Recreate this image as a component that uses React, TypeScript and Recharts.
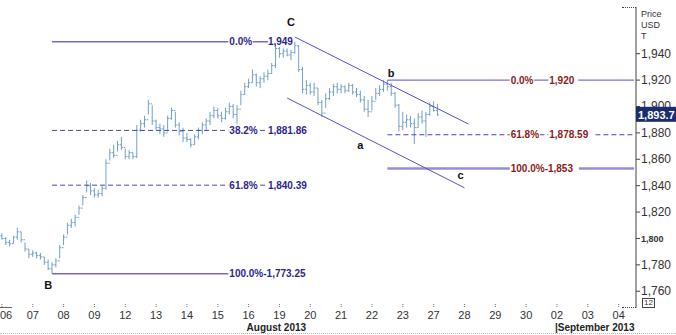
import React from 'react';
import { ComposedChart, Bar, XAxis, YAxis, ReferenceLine, ReferenceDot } from 'recharts';

const dayLabels = ['06', '07', '08', '09', '12', '13', '14', '15', '16', '19', '20', '21', '22', '23', '27', '28', '29', '30', '02', '03', '04'];
const monthLabels = [
  { day: 8, text: 'August 2013' },
  { day: 18, text: '|September 2013' },
];
const BARS_PER_DAY = 8;
const SLOTS = 165;

// open, high, low, close
const ohlc: number[][] = [
  [1802, 1804, 1799, 1800], [1800, 1801, 1795, 1797], [1797, 1799, 1794, 1796], [1796, 1802, 1796, 1801],
  [1801, 1808, 1799, 1805], [1805, 1805, 1797, 1799], [1799, 1797, 1790, 1792], [1792, 1792, 1785, 1788],
  [1788, 1791, 1786, 1789], [1789, 1790, 1785, 1787], [1787, 1789, 1784, 1786], [1786, 1786, 1780, 1782],
  [1782, 1784, 1776, 1777], [1777, 1782, 1773.3, 1780], [1780, 1785, 1778, 1783], [1783, 1795, 1785, 1793],
  [1793, 1803, 1795, 1801], [1801, 1812, 1803, 1810], [1810, 1815, 1808, 1812], [1812, 1818, 1809, 1816],
  [1816, 1825, 1818, 1823], [1823, 1833, 1825, 1831], [1831, 1844, 1835, 1840], [1840, 1842, 1833, 1836],
  [1836, 1838, 1831, 1833], [1833, 1837, 1831, 1834], [1834, 1840, 1832, 1838], [1838, 1860, 1837, 1857],
  [1857, 1868, 1859, 1865], [1865, 1871, 1861, 1863], [1863, 1874, 1866, 1871], [1871, 1877, 1867, 1869],
  [1869, 1868, 1860, 1862], [1862, 1867, 1860, 1865], [1865, 1865, 1860, 1862], [1862, 1886, 1861, 1882],
  [1882, 1890, 1881, 1887], [1887, 1893, 1884, 1890], [1890, 1905, 1894, 1902], [1902, 1901, 1886, 1889],
  [1889, 1890, 1882, 1884], [1884, 1887, 1879, 1883], [1883, 1886, 1877, 1880], [1880, 1893, 1881, 1891],
  [1891, 1899, 1890, 1897], [1897, 1896, 1884, 1886], [1886, 1888, 1878, 1881], [1881, 1884, 1873, 1876],
  [1876, 1880, 1873, 1875], [1875, 1876, 1869, 1871], [1871, 1879, 1871, 1877], [1877, 1884, 1875, 1882],
  [1882, 1888, 1879, 1886], [1886, 1891, 1882, 1889], [1889, 1896, 1886, 1893], [1893, 1900, 1891, 1897],
  [1897, 1899, 1891, 1893], [1893, 1896, 1888, 1891], [1891, 1899, 1890, 1896], [1896, 1903, 1894, 1900],
  [1900, 1902, 1891, 1894], [1894, 1901, 1887, 1898], [1898, 1912, 1901, 1909], [1909, 1918, 1909, 1915],
  [1915, 1921, 1914, 1918], [1918, 1928, 1918, 1924], [1924, 1925, 1915, 1918], [1918, 1923, 1914, 1921],
  [1921, 1926, 1918, 1923], [1923, 1928, 1920, 1925], [1925, 1933, 1925, 1931], [1931, 1947, 1929, 1944],
  [1944, 1945, 1937, 1940], [1940, 1944, 1937, 1942], [1942, 1944, 1938, 1939], [1939, 1943, 1935, 1941],
  [1941, 1949, 1940, 1946], [1946, 1946.5, 1926, 1928], [1928, 1930, 1910, 1913], [1913, 1920, 1909, 1916],
  [1916, 1918, 1909, 1911], [1911, 1918, 1908, 1914], [1914, 1914, 1901, 1903], [1903, 1905, 1892, 1895],
  [1895, 1910, 1899, 1906], [1906, 1914, 1905, 1911], [1911, 1917, 1908, 1915], [1915, 1918, 1910, 1913],
  [1913, 1917, 1910, 1915], [1915, 1916, 1910, 1912], [1912, 1918, 1911, 1916], [1916, 1917, 1909, 1911],
  [1911, 1914, 1907, 1909], [1909, 1912, 1903, 1905], [1905, 1908, 1896, 1898], [1898, 1905, 1892, 1896],
  [1896, 1908, 1897, 1904], [1904, 1914, 1905, 1910], [1910, 1916, 1908, 1913], [1913, 1920, 1911, 1917],
  [1917, 1920, 1912, 1915], [1915, 1918, 1908, 1910], [1910, 1911, 1899, 1901], [1901, 1902, 1881, 1885],
  [1885, 1896, 1882, 1888], [1888, 1894, 1884, 1890], [1890, 1893, 1884, 1887], [1887, 1891, 1871.5, 1884],
  [1884, 1895, 1884, 1892], [1892, 1897, 1887, 1889], [1889, 1896, 1877, 1894], [1894, 1903, 1893, 1900],
  [1900, 1904, 1896, 1897], [1897, 1902, 1893, 1893.7],
];

const priceTicks = [1760, 1780, 1800, 1820, 1840, 1860, 1880, 1900, 1920, 1940];
const lastPrice = 1893.7;

const fibUp = [
  { pct: '0.0%', value: 1949, text: '1,949', kind: 'solid' },
  { pct: '38.2%', value: 1881.86, text: '1,881.86', kind: 'dash' },
  { pct: '61.8%', value: 1840.39, text: '1,840.39', kind: 'dash' },
  { pct: '100.0%-1,773.25', value: 1773.25, text: '', kind: 'solid' },
];
const fibDown = [
  { pct: '0.0%', value: 1920, text: '1,920', kind: 'thin' },
  { pct: '61.8%', value: 1878.59, text: '1,878.59', kind: 'dash' },
  { pct: '100.0%-1,853', value: 1853, text: '', kind: 'thick' },
];
const fibUpRange = { start: 13, pctAt: 59, valueAt: 69 };
const fibDownRange = { start: 100, pctAt: 132, valueAt: 142, end: 164 };

const channelUpper = [{ x: 76, y: 1952.65 }, { x: 121, y: 1886.74 }];
const channelLower = [{ x: 74, y: 1906.4 }, { x: 120, y: 1838.4 }];

const waveLabels = [
  { x: 75, y: 1964.0, t: 'C' },
  { x: 12, y: 1764.8, t: 'B' },
  { x: 101, y: 1925.4, t: 'b' },
  { x: 93, y: 1870.8, t: 'a' },
  { x: 119, y: 1848.1, t: 'c' },
];

const data = Array.from({ length: SLOTS }, (_, i) => {
  const b = ohlc[i];
  return b
    ? { i, o: b[0], h: b[1], l: b[2], c: b[3], range: [b[2], b[1]] }
    : { i, range: null };
});

const FONT = '"Liberation Sans", Arial, sans-serif';
const BAR_COLOR = '#72a0c8';
const FIB_A_TEXT = '#2e1f8f';
const FIB_B_TEXT = '#8b1a1a';

const OhlcShape = (props: any) => {
  const { x, y, width, height, payload } = props;
  if (!payload || payload.o == null || y == null || height == null) return null;
  const top = Math.min(y, y + height);
  const bot = Math.max(y, y + height);
  const span = payload.h - payload.l || 1;
  const toY = (v: number) => top + ((payload.h - v) / span) * (bot - top);
  const cx = x + width / 2;
  return (
    <g stroke={BAR_COLOR} strokeWidth={1}>
      <line x1={cx} x2={cx} y1={top} y2={bot} />
      <line x1={cx - 1.6} x2={cx} y1={toY(payload.o)} y2={toY(payload.o)} />
      <line x1={cx} x2={cx + 1.6} y1={toY(payload.c)} y2={toY(payload.c)} />
    </g>
  );
};

const XTick = (props: any) => {
  const { x, y, payload } = props;
  const v = Number(payload.value);
  if (v % BARS_PER_DAY !== 0) return <g />;
  const k = v / BARS_PER_DAY;
  const label = dayLabels[k];
  if (label == null) return <g />;
  const month = monthLabels.find((m) => m.day === k);
  return (
    <g>
      <line x1={x} x2={x} y1={y - 4} y2={y - 1} stroke="#777" strokeDasharray="1 1" />
      <text
        x={k === 0 ? x - 2 : x}
        y={y + 11}
        textAnchor={k === 0 ? 'start' : 'middle'}
        fontSize={11}
        fontFamily={FONT}
        fill="#333"
      >
        {label}
      </text>
      {month && (
        <text x={x - 2} y={y + 23} textAnchor="start" fontSize={10} fontWeight="bold" fontFamily={FONT} fill="#222">
          {month.text}
        </text>
      )}
    </g>
  );
};

const YTick = (props: any) => {
  const { x, y, payload } = props;
  const bold = payload.value === 1800;
  return (
    <text
      x={x}
      y={y}
      dy={4}
      textAnchor="start"
      fontSize={bold ? 9 : 12}
      fontWeight={bold ? 'bold' : 'normal'}
      fontFamily={FONT}
      fill="#333"
    >
      {payload.value.toLocaleString('en-US')}
    </text>
  );
};

const makeTextShape = (text: string, color: string, bg: boolean, w: number, size = 10, bold = true, anchor: 'start' | 'middle' = 'start') =>
  (p: any) => (
    <g>
      {bg && <rect x={p.cx - 1} y={p.cy - 6} width={w + 2} height={12} fill="#fff" />}
      <text
        x={p.cx}
        y={p.cy}
        dy="0.35em"
        textAnchor={anchor}
        fontSize={size}
        fontWeight={bold ? 'bold' : 'normal'}
        fontFamily={FONT}
        fill={color}
      >
        {text}
      </text>
    </g>
  );

const PriceBox = (p: any) => {
  const vb = p.viewBox || {};
  const bx = (vb.x || 0) + (vb.width || 0);
  const by = vb.y || 0;
  return (
    <g>
      <rect x={bx} y={by - 8} width={40} height={15} fill="#1b2d6e" />
      <text x={bx + 2} y={by} dy="0.36em" fontSize={11} fontWeight="bold" fontFamily={FONT} fill="#fff">
        {lastPrice.toLocaleString('en-US', { minimumFractionDigits: 1 })}
      </text>
    </g>
  );
};

const lineStyle = (kind: string) => {
  if (kind === 'dash') return { stroke: '#4e45bd', strokeWidth: 1, strokeDasharray: '5 3' };
  if (kind === 'thick') return { stroke: '#958ce0', strokeWidth: 2.5 };
  if (kind === 'thin') return { stroke: '#5a50c8', strokeWidth: 1 };
  return { stroke: '#7468d4', strokeWidth: 1.5 };
};

const textWidth = (s: string) => s.length * 5.6;

export default function App() {
  return (
    <div style={{ position: 'absolute', left: 0, top: 0, width: 676, height: 335, background: '#fff', fontFamily: FONT }}>
      <ComposedChart width={676} height={335} data={data} margin={{ top: 7, right: 0, bottom: 0, left: 0 }}>
        <XAxis
          dataKey="i"
          type="category"
          interval={0}
          tick={<XTick />}
          tickLine={false}
          axisLine={false}
          tickSize={0}
          tickMargin={0}
          height={27}
        />
        <YAxis
          orientation="right"
          type="number"
          domain={[1747.3, 1975.4]}
          allowDataOverflow
          ticks={priceTicks}
          width={40}
          tickSize={4}
          tickMargin={1}
          axisLine={{ stroke: '#444' }}
          tickLine={{ stroke: '#444' }}
          tick={<YTick />}
        />
        <Bar dataKey="range" shape={<OhlcShape />} isAnimationActive={false} />

        {fibUp.map((f) => (
          <ReferenceLine
            key={'fa' + f.pct}
            segment={[
              { x: fibUpRange.start, y: f.value },
              { x: f.text ? fibUpRange.valueAt : fibUpRange.pctAt, y: f.value },
            ]}
            {...lineStyle(f.kind)}
          />
        ))}
        {fibUp.map((f) => (
          <ReferenceDot
            key={'fap' + f.pct}
            x={fibUpRange.pctAt}
            y={f.value}
            r={0}
            shape={makeTextShape(f.pct, FIB_A_TEXT, true, textWidth(f.pct))}
          />
        ))}
        {fibUp.filter((f) => f.text).map((f) => (
          <ReferenceDot
            key={'fav' + f.pct}
            x={fibUpRange.valueAt}
            y={f.value}
            r={0}
            shape={makeTextShape(f.text, FIB_A_TEXT, false, textWidth(f.text))}
          />
        ))}

        {fibDown.map((f) => (
          <ReferenceLine
            key={'fb' + f.pct}
            segment={[
              { x: fibDownRange.start, y: f.value },
              { x: fibDownRange.end, y: f.value },
            ]}
            {...lineStyle(f.kind)}
          />
        ))}
        {fibDown.map((f) => (
          <ReferenceDot
            key={'fbp' + f.pct}
            x={fibDownRange.pctAt}
            y={f.value}
            r={0}
            shape={makeTextShape(f.pct, FIB_B_TEXT, true, textWidth(f.pct))}
          />
        ))}
        {fibDown.filter((f) => f.text).map((f) => (
          <ReferenceDot
            key={'fbv' + f.pct}
            x={fibDownRange.valueAt}
            y={f.value}
            r={0}
            shape={makeTextShape(f.text, FIB_B_TEXT, true, textWidth(f.text))}
          />
        ))}

        <ReferenceLine segment={channelUpper} stroke="#5b50c8" strokeWidth={1} />
        <ReferenceLine segment={channelLower} stroke="#5b50c8" strokeWidth={1} />

        {waveLabels.map((w) => (
          <ReferenceDot
            key={'w' + w.t}
            x={w.x}
            y={w.y}
            r={0}
            shape={makeTextShape(w.t, '#111', false, 8, 11, true, 'middle')}
          />
        ))}

        <ReferenceLine
          y={lastPrice}
          stroke="none"
          zIndex={3000}
          label={(p: any) => <PriceBox {...p} />}
          {...({} as any)}
        />
      </ComposedChart>

      <div style={{ position: 'absolute', left: 641, top: 9, fontSize: 9, lineHeight: '11px', color: '#333', fontFamily: FONT }}>
        <div>Price</div>
        <div>USD</div>
        <div>T</div>
      </div>
      <div style={{ position: 'absolute', left: 622, top: 7, width: 14, borderTop: '1px dotted #444' }} />
      <div style={{ position: 'absolute', left: 622, top: 307, width: 14, borderTop: '1px dotted #444' }} />
      <div style={{ position: 'absolute', left: 0, top: 307, width: 12, borderTop: '1px solid #666' }} />
      <div
        style={{
          position: 'absolute',
          left: 642,
          top: 298,
          width: 11,
          height: 8,
          border: '1px solid #444',
          fontSize: 8,
          lineHeight: '8px',
          textAlign: 'center',
          color: '#333',
          fontFamily: FONT,
        }}
      >
        12
      </div>
      <div style={{ position: 'absolute', left: 0, top: 333, width: 676, borderTop: '1px dotted #bbb' }} />
    </div>
  );
}
